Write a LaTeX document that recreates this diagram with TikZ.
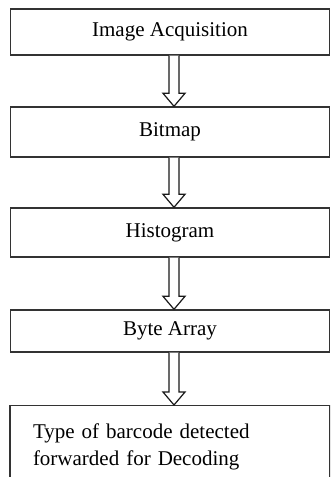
\documentclass[tikz,border=0pt]{standalone}
\usepackage{fontspec}
\setmainfont{Liberation Serif}
\usetikzlibrary{calc}

\begin{document}
\begin{tikzpicture}[x=1pt,y=-1pt,
	stage/.style={draw=black!80, line width=1.4pt, minimum width=319pt, inner sep=0pt,
		font=\fontsize{21}{27}\selectfont},
	hollow/.style={draw=black!90, line width=1.2pt, fill=white, line join=miter}]
	\clip (0,0) rectangle (330,477);
	\node[stage, minimum height=46pt] (acq)   at (170,32)    {Image Acquisition};
	\node[stage, minimum height=50pt] (bmp)   at (170,132)   {Bitmap};
	\node[stage, minimum height=49pt] (hist)  at (170,232.5) {Histogram};
	\node[stage, minimum height=42pt] (bytes) at (170,331)   {Byte Array};
	\node[stage, minimum height=82pt, anchor=north, text width=274pt, inner xsep=23pt,
		align=left] (type) at (170,405) {Type of barcode detected\\forwarded for Decoding};
	% hollow arrows between the stages
	\foreach \a/\b in {acq/bmp, bmp/hist, hist/bytes, bytes/type}
		\draw[hollow] ($(\a.south)+(-1,0)$) -- ($(\b.north)+(-1,-13)$)
			-- ($(\b.north)+(-7,-13)$) -- ($(\b.north)+(4,0)$)
			-- ($(\b.north)+(15,-13)$) -- ($(\b.north)+(9,-13)$)
			-- ($(\a.south)+(9,0)$);
\end{tikzpicture}
\end{document}
